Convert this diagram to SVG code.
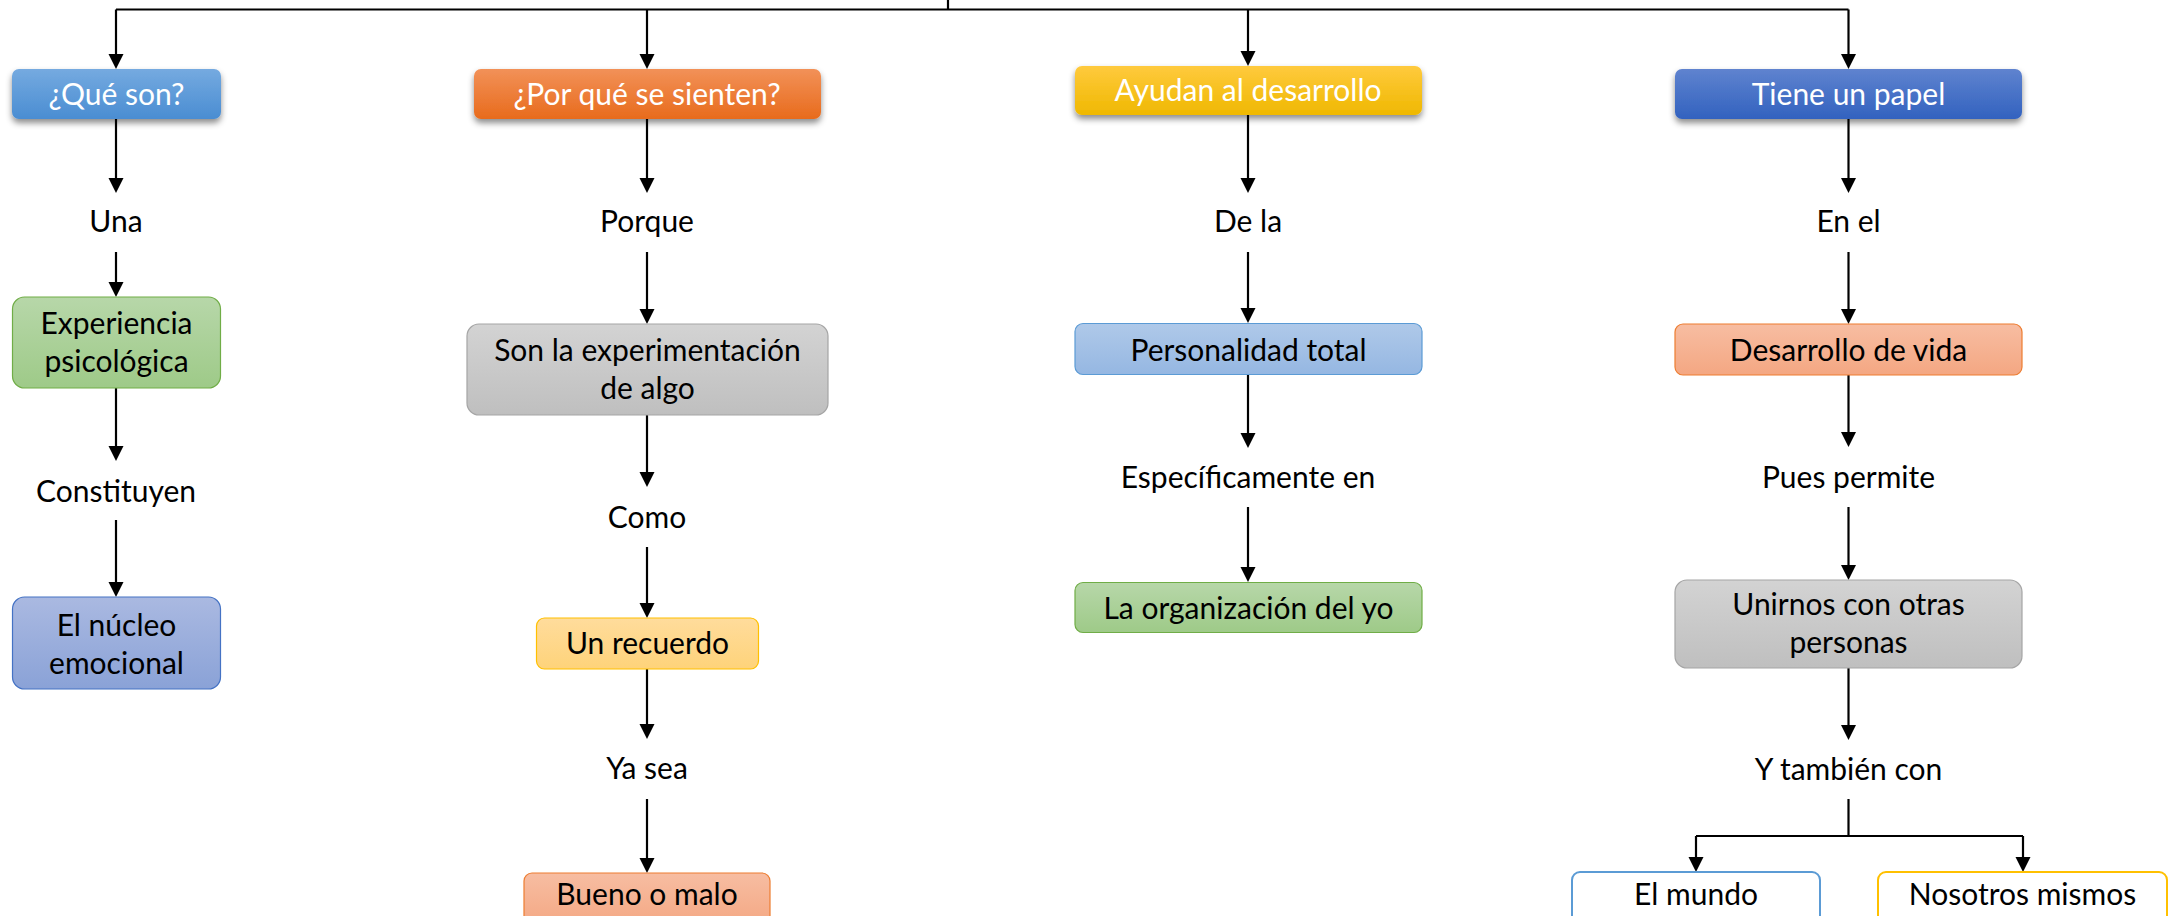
<svg xmlns="http://www.w3.org/2000/svg" width="2177" height="916" viewBox="0 0 2177 916">
<defs>
<marker id="ah" markerUnits="userSpaceOnUse" markerWidth="16" markerHeight="16" refX="10" refY="7.5" orient="auto"><path d="M0,0 L15,7.5 L0,15 z" fill="#000"/></marker>
<filter id="sh" x="-10%" y="-30%" width="120%" height="170%"><feDropShadow dx="0" dy="4" stdDeviation="3" flood-color="#000" flood-opacity="0.45"/></filter>
<linearGradient id="gBlue" x1="0" y1="0" x2="0" y2="1"><stop offset="0" stop-color="#75AAE0"/><stop offset="1" stop-color="#4A8DD2"/></linearGradient>
<linearGradient id="gOrange" x1="0" y1="0" x2="0" y2="1"><stop offset="0" stop-color="#F29158"/><stop offset="1" stop-color="#E86B1C"/></linearGradient>
<linearGradient id="gGold" x1="0" y1="0" x2="0" y2="1"><stop offset="0" stop-color="#FFCA3E"/><stop offset="1" stop-color="#EFB800"/></linearGradient>
<linearGradient id="gDBlue" x1="0" y1="0" x2="0" y2="1"><stop offset="0" stop-color="#5F83CF"/><stop offset="1" stop-color="#3262BF"/></linearGradient>
<linearGradient id="gGreen" x1="0" y1="0" x2="0" y2="1"><stop offset="0" stop-color="#B7D7A9"/><stop offset="1" stop-color="#9ECA88"/></linearGradient>
<linearGradient id="gPurple" x1="0" y1="0" x2="0" y2="1"><stop offset="0" stop-color="#AAB9E1"/><stop offset="1" stop-color="#8AA2D7"/></linearGradient>
<linearGradient id="gGray" x1="0" y1="0" x2="0" y2="1"><stop offset="0" stop-color="#D3D3D3"/><stop offset="1" stop-color="#BFBFBF"/></linearGradient>
<linearGradient id="gLGold" x1="0" y1="0" x2="0" y2="1"><stop offset="0" stop-color="#FFDC9C"/><stop offset="1" stop-color="#FED37A"/></linearGradient>
<linearGradient id="gLOrange" x1="0" y1="0" x2="0" y2="1"><stop offset="0" stop-color="#F7BDA2"/><stop offset="1" stop-color="#F4A782"/></linearGradient>
<linearGradient id="gLBlue" x1="0" y1="0" x2="0" y2="1"><stop offset="0" stop-color="#AFC9E9"/><stop offset="1" stop-color="#95B7E2"/></linearGradient>
</defs>
<style>
text{font-family:Lato,"Open Sans","Liberation Sans",sans-serif;font-size:30px;text-anchor:middle;fill:#000}
.w{fill:#fff}
.c{fill:none;stroke:#000;stroke-width:2.2}
.a{marker-end:url(#ah)}
</style>
<rect width="2177" height="916" fill="#fff"/>
<g id="connectors">
<path class="c" d="M948,0 V9.5 M116,9.5 H1848.5"/>
<path class="c a" d="M116,9.5 V64"/>
<path class="c a" d="M647,9.5 V64"/>
<path class="c a" d="M1248,9.5 V61"/>
<path class="c a" d="M1848.5,9.5 V64"/>
<path class="c a" d="M116,119 V188"/>
<path class="c a" d="M116,252 V292"/>
<path class="c a" d="M116,388 V456"/>
<path class="c a" d="M116,520 V592"/>
<path class="c a" d="M647,119 V188"/>
<path class="c a" d="M647,252 V319"/>
<path class="c a" d="M647,415 V482"/>
<path class="c a" d="M647,547 V613"/>
<path class="c a" d="M647,669 V734"/>
<path class="c a" d="M647,799 V868"/>
<path class="c a" d="M1248,115 V188"/>
<path class="c a" d="M1248,252 V318"/>
<path class="c a" d="M1248,374 V443"/>
<path class="c a" d="M1248,507 V577"/>
<path class="c a" d="M1848.5,119 V188"/>
<path class="c a" d="M1848.5,252 V319"/>
<path class="c a" d="M1848.5,375 V442"/>
<path class="c a" d="M1848.5,507 V575"/>
<path class="c a" d="M1848.5,668 V735"/>
<path class="c" d="M1848.5,799 V836 M1696,836 H2023"/>
<path class="c a" d="M1696,836 V867"/>
<path class="c a" d="M2023,836 V867"/>
</g>
<g id="n-que-son"><rect x="12" y="69" width="209" height="50" rx="7" fill="url(#gBlue)" filter="url(#sh)"/><text class="w" x="116.5" y="105">¿Qué son?</text></g>
<g id="n-por-que"><rect x="474" y="69" width="347" height="50" rx="7" fill="url(#gOrange)" filter="url(#sh)"/><text class="w" x="647" y="105">¿Por qué se sienten?</text></g>
<g id="n-ayudan"><rect x="1075" y="66" width="347" height="49" rx="7" fill="url(#gGold)" filter="url(#sh)"/><text class="w" x="1248" y="101">Ayudan al desarrollo</text></g>
<g id="n-tiene"><rect x="1675" y="69" width="347" height="50" rx="7" fill="url(#gDBlue)" filter="url(#sh)"/><text class="w" x="1848.5" y="105">Tiene un papel</text></g>
<g id="t-una"><text x="116" y="232">Una</text></g>
<g id="t-porque"><text x="647" y="232">Porque</text></g>
<g id="t-dela"><text x="1248" y="232">De la</text></g>
<g id="t-enel"><text x="1848.5" y="232">En el</text></g>
<g id="n-experiencia"><rect x="12.5" y="297" width="208" height="91" rx="12" fill="url(#gGreen)" stroke="#70AD47" stroke-width="1.2"/><text x="116.5" y="334">Experiencia</text><text x="116.5" y="372">psicológica</text></g>
<g id="n-son-la"><rect x="467" y="324" width="361" height="91" rx="12" fill="url(#gGray)" stroke="#A5A5A5" stroke-width="1.2"/><text x="647.5" y="361">Son la experimentación</text><text x="647.5" y="399">de algo</text></g>
<g id="n-personalidad"><rect x="1075" y="323.5" width="347" height="51" rx="8" fill="url(#gLBlue)" stroke="#5B9BD5" stroke-width="1.2"/><text x="1248.5" y="361">Personalidad total</text></g>
<g id="n-desarrollo"><rect x="1675" y="324" width="347" height="51" rx="8" fill="url(#gLOrange)" stroke="#ED7D31" stroke-width="1.2"/><text x="1848.5" y="361">Desarrollo de vida</text></g>
<g id="t-constituyen"><text x="116" y="502">Constituyen</text></g>
<g id="t-como"><text x="647" y="528">Como</text></g>
<g id="t-especificamente"><text x="1248" y="488">Específicamente en</text></g>
<g id="t-pues"><text x="1848.5" y="488">Pues permite</text></g>
<g id="n-nucleo"><rect x="12.5" y="597" width="208" height="92" rx="12" fill="url(#gPurple)" stroke="#4472C4" stroke-width="1.2"/><text x="116.5" y="636">El núcleo</text><text x="116.5" y="674">emocional</text></g>
<g id="n-recuerdo"><rect x="536.5" y="618" width="222" height="51" rx="8" fill="url(#gLGold)" stroke="#FFC000" stroke-width="1.2"/><text x="647.5" y="654">Un recuerdo</text></g>
<g id="n-organizacion"><rect x="1075" y="582.5" width="347" height="50" rx="8" fill="url(#gGreen)" stroke="#70AD47" stroke-width="1.2"/><text x="1248.5" y="619">La organización del yo</text></g>
<g id="n-unirnos"><rect x="1675" y="580" width="347" height="88" rx="12" fill="url(#gGray)" stroke="#A5A5A5" stroke-width="1.2"/><text x="1848.5" y="615">Unirnos con otras</text><text x="1848.5" y="653">personas</text></g>
<g id="t-yasea"><text x="647" y="779">Ya sea</text></g>
<g id="t-ytambien"><text x="1848.5" y="780">Y también con</text></g>
<g id="n-bueno"><rect x="524" y="873" width="246" height="55" rx="8" fill="url(#gLOrange)" stroke="#ED7D31" stroke-width="1.2"/><text x="647" y="905">Bueno o malo</text></g>
<g id="n-mundo"><rect x="1572" y="872" width="248" height="55" rx="8" fill="#fff" stroke="#5B9BD5" stroke-width="2"/><text x="1696" y="905">El mundo</text></g>
<g id="n-nosotros"><rect x="1878" y="872" width="289" height="55" rx="8" fill="#fff" stroke="#FFC000" stroke-width="2"/><text x="2022.5" y="905">Nosotros mismos</text></g>
</svg>
